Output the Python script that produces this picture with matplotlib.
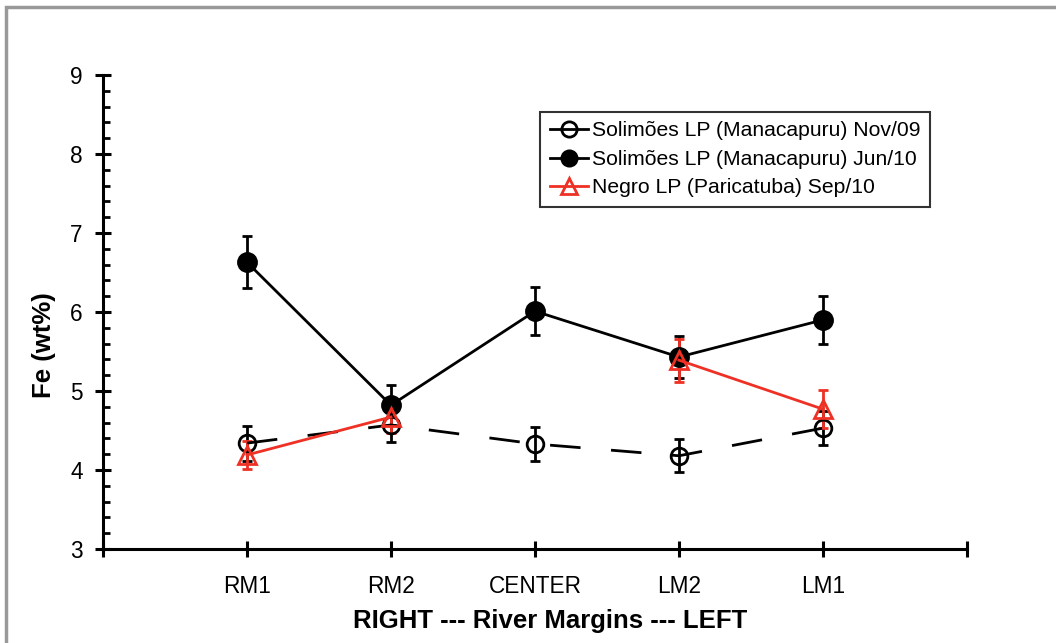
import numpy as np
import matplotlib.pyplot as plt
from matplotlib.lines import Line2D
from matplotlib.patches import Rectangle
from matplotlib.ticker import MultipleLocator

plt.rcParams['font.family'] = ['Liberation Sans', 'DejaVu Sans']

# data
sites = ['RM1', 'RM2', 'CENTER', 'LM2', 'LM1']
nov09 = [4.34, 4.57, 4.33, 4.18, 4.53]
nov09_err = [0.22, 0.22, 0.22, 0.21, 0.22]
jun10 = [6.63, 4.82, 6.01, 5.43, 5.90]
jun10_err = [0.33, 0.25, 0.30, 0.27, 0.30]
negro = [4.19, 4.67, np.nan, 5.39, 4.77]
negro_err = [0.18, 0.20, np.nan, 0.27, 0.24]

red = '#ee3124'
x = np.arange(1, len(sites) + 1)

fig = plt.figure(figsize=(10.56, 6.43), dpi=100)
ax = fig.add_axes([0.0975, 0.1462, 0.8182, 0.7372])

# gray frame around the chart area
fig.patches.append(Rectangle((6 / 1056, -0.1), 1.2, 1 - 7 / 643 + 0.1,
                             transform=fig.transFigure, fill=False,
                             edgecolor='#999999', lw=2.5))

ax.errorbar(x, nov09, yerr=nov09_err, color='black', lw=2, dashes=[11, 11],
            marker='o', ms=12, mfc='none', mew=2, ecolor='black',
            elinewidth=2, capsize=3.5, capthick=2)
ax.errorbar(x, jun10, yerr=jun10_err, color='black', lw=2,
            marker='o', ms=13, mfc='black', mew=2, ecolor='black',
            elinewidth=2, capsize=3.5, capthick=2)
# red line only joins neighbouring points (no CENTER sample)
ax.errorbar(x, negro, yerr=negro_err, color=red, lw=2,
            marker='^', ms=13, mfc='none', mew=2, ecolor=red,
            elinewidth=2, capsize=3.5, capthick=2)

ax.set_xlim(0, 6)
ax.set_ylim(3, 9)
ax.set_xticks(range(0, 7))
ax.set_xticklabels([''] + sites + [''])
ax.yaxis.set_major_locator(MultipleLocator(1))
ax.yaxis.set_minor_locator(MultipleLocator(0.2))

for s in ['top', 'right']:
    ax.spines[s].set_visible(False)
for s in ['left', 'bottom']:
    ax.spines[s].set_linewidth(2.2)

ax.tick_params(axis='both', which='major', direction='inout', length=11,
               width=2.2, labelsize=16.3)
ax.tick_params(axis='y', pad=9)
ax.tick_params(axis='x', pad=13)
ax.tick_params(axis='y', which='minor', direction='in', length=5, width=2)

ax.set_xlabel('RIGHT --- River Margins --- LEFT', fontsize=18.5, fontweight='bold', labelpad=8)
ax.set_ylabel('Fe (wt%)', fontsize=18.5, fontweight='bold', labelpad=10)
ax.xaxis.label.set_x(0.517)
ax.yaxis.label.set_y(0.43)

handles = [
    Line2D([], [], color='black', lw=2, marker='o', ms=11, mfc='none', mew=2),
    Line2D([], [], color='black', lw=2, marker='o', ms=11, mfc='black', mew=2),
    Line2D([], [], color=red, lw=2, marker='^', ms=12, mfc='none', mew=2),
]
labels = ['Solimões LP (Manacapuru) Nov/09',
          'Solimões LP (Manacapuru) Jun/10',
          'Negro LP (Paricatuba) Sep/10']
leg = ax.legend(handles, labels, loc='upper left', bbox_to_anchor=(0.506, 0.922),
                fontsize=15.2, frameon=True, fancybox=False, handlelength=1.8,
                handletextpad=0.2, borderpad=0.45, labelspacing=0.45,
                borderaxespad=0)
leg.get_frame().set_edgecolor('black')
leg.get_frame().set_linewidth(1.5)

plt.savefig('out.png', dpi=100)
